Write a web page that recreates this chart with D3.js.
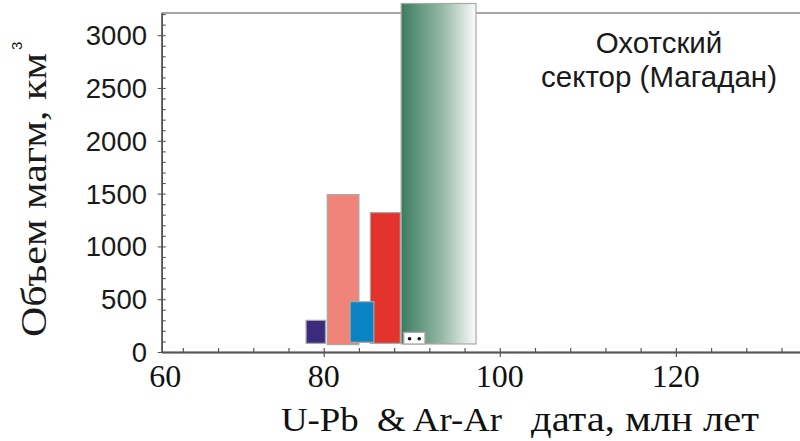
<!DOCTYPE html>
<html><head><meta charset="utf-8">
<script src="https://cdn.jsdelivr.net/npm/d3@7"></script>
<style>
html,body{margin:0;padding:0;background:#fff;}
svg{display:block;}
</style></head>
<body>
<svg id="chart" width="800" height="441"></svg>
<script>
// ---- data ----
const barNames   = ["purple", "pink", "red", "green", "blue", "box"];
const ageFrom    = [78.0, 80.4, 85.3, 88.8, 83.0, 89.1];
const ageTo      = [80.2, 84.0, 88.7, 97.3, 85.7, 91.5];
const volumeTop  = [300, 1490, 1320, 3300, 476, 186];
const volumeBase = [82, 70, 82, 76, 92, 76];
const dotAges    = [89.75, 90.85];
const dotVolumes = [125, 125];
const xMajorTicks = [80, 100, 120];
const xMinorTicks = [64, 68, 72, 76, 84, 88, 92, 96, 104, 108, 112, 116, 124, 128, 132];
const xFirstLabel = "60";
const yMajorTicks = [0, 500, 1000, 1500, 2000, 2500, 3000];
const yMinorStep = 100;
const yTitle = "Объем магм, км";
const yTitleSup = "3";
const xTitleA = "U-Pb  & Ar-Ar";
const xTitleB = "дата, млн лет";
const noteLines = ["Охотский", "сектор (Магадан)"];

// ---- styles ----
const fills = {purple:"#3b2b7e", pink:"#f0847b", red:"#e4322c", blue:"#0a83c5", box:"#ffffff"};

const svg = d3.select("#chart");
const x = d3.scaleLinear().domain([61.6, 134.1]).range([161.7, 800]);
const y = d3.scaleLinear().domain([0, 3210]).range([352, 13]);

const defs = svg.append("defs");
const grad = defs.append("linearGradient").attr("id","greenGrad").attr("x1","0%").attr("x2","100%").attr("y1","0%").attr("y2","0%");
grad.append("stop").attr("offset","0%").attr("stop-color","#3c7c61");
grad.append("stop").attr("offset","55%").attr("stop-color","#95b9a7");
grad.append("stop").attr("offset","100%").attr("stop-color","#fbfbfb");

// frame top line
svg.append("line").attr("x1", x.range()[0]).attr("x2", 800).attr("y1", y(3210)).attr("y2", y(3210))
  .attr("stroke","#8a8a8a").attr("stroke-width",1.5);

// x axis
const xAxisG = svg.append("g").attr("transform",`translate(0,${y(0)})`);
xAxisG.call(d3.axisBottom(x).tickValues(xMinorTicks).tickSize(-4).tickFormat("").tickSizeOuter(0));
xAxisG.append("g").call(d3.axisBottom(x).tickValues(xMajorTicks).tickSize(5).tickFormat("").tickSizeOuter(0));
xAxisG.append("g").call(d3.axisBottom(x).tickValues(xMajorTicks).tickSize(-4).tickFormat("").tickSizeOuter(0));
xAxisG.selectAll("path.domain").attr("stroke","#555").attr("stroke-width",1.3);
xAxisG.selectAll("line").attr("stroke","#555").attr("stroke-width",1.2);
const xLabels = [{v:null, t:xFirstLabel}].concat(xMajorTicks.map(v=>({v, t:String(v)})));
svg.append("g").selectAll("text").data(xLabels).join("text")
  .attr("x", d => d.v === null ? x.range()[0] + 3.5 : x(d.v))
  .attr("y", y(0) + 35)
  .attr("text-anchor","middle")
  .style("font-family","'Liberation Serif', serif").style("font-size","32px").attr("fill","#111")
  .text(d => d.t);

// y axis
const yMinor = d3.range(0, 3210, yMinorStep).filter(v => v % 500 !== 0);
const yAxisG = svg.append("g").attr("transform",`translate(${x.range()[0]},0)`);
yAxisG.call(d3.axisLeft(y).tickValues(yMinor).tickSize(-4).tickFormat("").tickSizeOuter(0));
yAxisG.append("g").call(d3.axisLeft(y).tickValues(yMajorTicks).tickSize(4).tickFormat("").tickSizeOuter(0));
yAxisG.append("g").call(d3.axisLeft(y).tickValues(yMajorTicks).tickSize(-4).tickFormat("").tickSizeOuter(0));
yAxisG.selectAll("path.domain").attr("stroke","#555").attr("stroke-width",1.3);
yAxisG.selectAll("line").attr("stroke","#555").attr("stroke-width",1.1);
svg.append("g").selectAll("text").data(yMajorTicks).join("text")
  .attr("x", 147).attr("y", d => y(d) + 10)
  .attr("text-anchor","end")
  .style("font-family","'Liberation Sans', Arial, sans-serif").style("font-size","27.5px").attr("fill","#1a1a1a")
  .text(d => d);

// bars
const bars = barNames.map((n,i)=>({n, a0:ageFrom[i], a1:ageTo[i], top:volumeTop[i], base:volumeBase[i]}));
svg.append("g").selectAll("rect").data(bars).join("rect")
  .attr("x", d => x(d.a0)).attr("width", d => x(d.a1) - x(d.a0))
  .attr("y", d => y(d.top)).attr("height", d => y(d.base) - y(d.top))
  .attr("fill", d => d.n === "green" ? "url(#greenGrad)" : fills[d.n])
  .attr("stroke","#a8a8a8").attr("stroke-width",1.2);

svg.append("g").selectAll("circle").data(dotAges.map((a,i)=>({a, v:dotVolumes[i]}))).join("circle")
  .attr("cx", d => x(d.a)).attr("cy", d => y(d.v)).attr("r", 1.8).attr("fill","#111");

// y title
svg.append("text").attr("transform","translate(46,337) rotate(-90)")
  .style("font-family","'Liberation Serif', serif").style("font-size","35px").attr("fill","#1a1a1a")
  .attr("textLength", 284).attr("lengthAdjust","spacingAndGlyphs")
  .text(yTitle);
svg.append("text").attr("transform","translate(22,50) rotate(-90)")
  .style("font-family","'Liberation Sans', sans-serif").style("font-size","15px").attr("fill","#1a1a1a")
  .text(yTitleSup);

// x title
svg.append("text").attr("x", 281).attr("y", 431)
  .style("font-family","'Liberation Serif', serif").style("font-size","34px").attr("fill","#111")
  .attr("textLength", 221).attr("lengthAdjust","spacingAndGlyphs")
  .style("white-space","pre").attr("xml:space","preserve")
  .text(xTitleA);
svg.append("text").attr("x", 531).attr("y", 431)
  .style("font-family","'Liberation Serif', serif").style("font-size","36px").attr("fill","#111")
  .attr("textLength", 228).attr("lengthAdjust","spacingAndGlyphs")
  .text(xTitleB);

// note
svg.append("g").selectAll("text").data(noteLines).join("text")
  .attr("x", 659).attr("y", (d,i) => 53 + i*34)
  .attr("text-anchor","middle")
  .style("font-family","'Liberation Sans', Arial, sans-serif").style("font-size","29.5px").attr("fill","#1a1a1a")
  .text(d => d);
</script>
</body></html>
